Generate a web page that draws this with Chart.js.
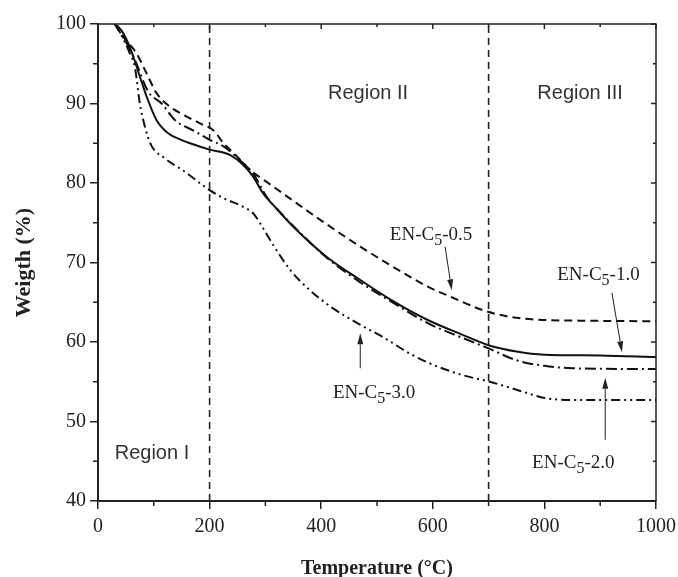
<!DOCTYPE html>
<html>
<head>
<meta charset="utf-8">
<script src="https://cdn.jsdelivr.net/npm/chart.js@4.4.0/dist/chart.umd.min.js"></script>
<style>
html,body{margin:0;padding:0;background:#fff;}
#wrap{width:678px;height:577px;position:relative;}
</style>
</head>
<body>
<div id="wrap"><canvas id="c" width="678" height="577"></canvas></div>
<script>
// ---- data ----
const temp05   = [30, 45, 69, 87, 105, 129, 155, 183, 207, 225, 247, 275, 299, 347, 410, 470, 530, 590, 635, 690, 735, 790, 850, 1000];
const weight05 = [100, 98.4, 96.3, 93.8, 91.3, 89.6, 88.5, 87.5, 86.6, 85.0, 83.5, 81.5, 80.3, 77.9, 74.8, 72.0, 69.4, 67.0, 65.6, 64.0, 63.2, 62.8, 62.7, 62.6];

const temp10   = [30, 42, 57, 75, 87, 105, 125, 150, 165, 200, 237, 260, 278, 296, 317, 350, 410, 470, 525, 590, 650, 700, 750, 800, 900, 1000];
const weight10 = [100, 99.2, 97.1, 93.4, 90.9, 87.9, 86.3, 85.4, 85.0, 84.2, 83.5, 82.3, 80.8, 78.7, 77.0, 74.5, 70.7, 67.8, 65.3, 62.8, 61.0, 59.6, 58.8, 58.4, 58.3, 58.1];

const temp20   = [30, 51, 66, 90, 114, 138, 171, 201, 225, 254, 278, 302, 320, 350, 410, 470, 530, 590, 650, 700, 750, 800, 850, 1000];
const weight20 = [100, 97.6, 95.5, 91.5, 90.0, 87.9, 86.6, 85.4, 84.6, 82.9, 81.2, 78.3, 76.8, 74.6, 70.6, 67.5, 64.9, 62.4, 60.6, 59.2, 57.7, 57.0, 56.7, 56.6];

const temp30   = [30, 42, 57, 66, 75, 84, 95, 120, 156, 200, 225, 260, 278, 296, 314, 344, 380, 422, 464, 511, 560, 595, 655, 702, 750, 798, 846, 1000];
const weight30 = [100, 98.6, 96.3, 94.6, 90.0, 87.1, 84.8, 83.1, 81.4, 79.1, 78.1, 77.0, 76.2, 74.3, 72.2, 69.1, 66.5, 64.2, 62.4, 60.6, 58.5, 57.3, 55.8, 55.0, 54.0, 53.0, 52.7, 52.7];

const xTickValues = [0, 200, 400, 600, 800, 1000];
const yTickValues = [40, 50, 60, 70, 80, 90, 100];
const xMinorStep = 100;
const yMinorStep = 5;
const regionBounds = [200, 700];
const regionNames = ['Region I', 'Region II', 'Region III'];
const seriesNames = ['EN-C5-0.5', 'EN-C5-1.0', 'EN-C5-2.0', 'EN-C5-3.0'];

function pts(t, w) { return t.map((v, i) => ({x: v, y: w[i]})); }

// ---- annotation placement (data coordinates) ----
const regionLabelPos = [
  {x: 30, y: 45.3, align: 'left'},
  {x: 484, y: 90.6, align: 'center'},
  {x: 864, y: 90.6, align: 'center'}
];
const seriesLabelPos = [
  {x: 523, y: 72.8},
  {x: 823, y: 67.8},
  {x: 778, y: 44.2},
  {x: 421, y: 53.0}
];
const arrowPos = [
  {x0: 622, y0: 72.0, x1: 634, y1: 66.5},
  {x0: 921, y0: 66.2, x1: 939, y1: 58.7},
  {x0: 909, y0: 47.7, x1: 909, y1: 55.5},
  {x0: 470, y0: 56.7, x1: 470, y1: 61.1}
];

const INK = '#222';

const decor = {
  id: 'decor',
  afterDraw(chart) {
    const ctx = chart.ctx;
    const xs = chart.scales.x, ys = chart.scales.y;
    const a = chart.chartArea;
    ctx.save();
    ctx.strokeStyle = INK;
    ctx.fillStyle = INK;
    // top and right frame
    ctx.lineWidth = 1.5;
    ctx.beginPath();
    ctx.moveTo(a.left, a.top); ctx.lineTo(a.right, a.top); ctx.lineTo(a.right, a.bottom);
    ctx.stroke();
    // minor ticks bottom / top
    ctx.lineWidth = 1.5;
    for (let v = xs.min; v <= xs.max + 0.01; v += xMinorStep) {
      const px = xs.getPixelForValue(v);
      const major = xTickValues.includes(v);
      ctx.beginPath();
      if (!major) { ctx.moveTo(px, a.bottom); ctx.lineTo(px, a.bottom + 5); }
      ctx.moveTo(px, a.top); ctx.lineTo(px, a.top + (major ? 5 : 3));
      ctx.stroke();
    }
    for (let v = ys.min; v <= ys.max + 0.01; v += yMinorStep) {
      const py = ys.getPixelForValue(v);
      const major = yTickValues.includes(v);
      ctx.beginPath();
      if (!major) { ctx.moveTo(a.left, py); ctx.lineTo(a.left - 5, py); }
      ctx.moveTo(a.right, py); ctx.lineTo(a.right - (major ? 5 : 3), py);
      ctx.stroke();
    }
    // region boundaries
    ctx.lineWidth = 1.6;
    ctx.setLineDash([7, 5]);
    regionBounds.forEach(v => {
      const px = xs.getPixelForValue(v);
      ctx.beginPath(); ctx.moveTo(px, a.top + 2); ctx.lineTo(px, a.bottom); ctx.stroke();
    });
    ctx.setLineDash([]);
    // region names
    ctx.font = '20px "Liberation Sans", Arial, sans-serif';
    ctx.fillStyle = '#333';
    ctx.textBaseline = 'alphabetic';
    regionNames.forEach((n, i) => {
      const p = regionLabelPos[i];
      ctx.textAlign = p.align;
      ctx.fillText(n, xs.getPixelForValue(p.x), ys.getPixelForValue(p.y));
    });
    // series labels with subscript
    ctx.fillStyle = INK;
    ctx.textAlign = 'left';
    seriesNames.forEach((n, i) => {
      const p = seriesLabelPos[i];
      let px = xs.getPixelForValue(p.x);
      const py = ys.getPixelForValue(p.y);
      const m = n.match(/^(EN-C)(5)(.*)$/);
      ctx.font = '19px "Liberation Serif", "Times New Roman", serif';
      ctx.fillText(m[1], px, py); px += ctx.measureText(m[1]).width;
      ctx.font = '16px "Liberation Serif", "Times New Roman", serif';
      ctx.fillText(m[2], px, py + 5); px += ctx.measureText(m[2]).width;
      ctx.font = '19px "Liberation Serif", "Times New Roman", serif';
      ctx.fillText(m[3], px, py);
    });
    // arrows
    ctx.lineWidth = 1;
    arrowPos.forEach(r => {
      const x0 = xs.getPixelForValue(r.x0), y0 = ys.getPixelForValue(r.y0);
      const x1 = xs.getPixelForValue(r.x1), y1 = ys.getPixelForValue(r.y1);
      const ang = Math.atan2(y1 - y0, x1 - x0);
      const L = 11, W = 3;
      const bx = x1 - L * Math.cos(ang), by = y1 - L * Math.sin(ang);
      ctx.beginPath(); ctx.moveTo(x0, y0); ctx.lineTo(bx, by); ctx.stroke();
      ctx.beginPath();
      ctx.moveTo(x1, y1);
      ctx.lineTo(bx + W * Math.sin(ang), by - W * Math.cos(ang));
      ctx.lineTo(bx - W * Math.sin(ang), by + W * Math.cos(ang));
      ctx.closePath(); ctx.fill();
    });
    ctx.restore();
  }
};

const common = {pointRadius: 0, borderColor: '#111', borderWidth: 2, fill: false, cubicInterpolationMode: 'monotone', showLine: true};

new Chart(document.getElementById('c'), {
  type: 'scatter',
  data: {
    datasets: [
      Object.assign({label: seriesNames[0], data: pts(temp05, weight05), borderDash: [8, 5]}, common),
      Object.assign({label: seriesNames[1], data: pts(temp10, weight10), borderDash: []}, common),
      Object.assign({label: seriesNames[2], data: pts(temp20, weight20), borderDash: [11, 4, 2, 4]}, common),
      Object.assign({label: seriesNames[3], data: pts(temp30, weight30), borderDash: [9, 4, 2, 4, 2, 4]}, common)
    ]
  },
  options: {
    responsive: false,
    animation: false,
    devicePixelRatio: 1,
    layout: {padding: {left: 0, top: 24, right: 22, bottom: 0}},
    plugins: {legend: {display: false}, tooltip: {enabled: false}},
    scales: {
      x: {
        type: 'linear', min: 0, max: 1000,
        afterBuildTicks: s => { s.ticks = xTickValues.map(v => ({value: v})); },
        afterFit: s => { s.height = 76; s.paddingLeft = 0; s.paddingRight = 0; },
        ticks: {color: INK, padding: 6, maxRotation: 0, callback: v => String(v),
                font: {family: '"Liberation Serif", "Times New Roman", serif', size: 20}},
        grid: {drawOnChartArea: false, drawTicks: true, tickLength: 8, color: INK, lineWidth: 1.5},
        border: {color: INK, width: 2},
        title: {display: true, text: 'Temperature (°C)', color: INK, padding: {top: 0, bottom: 0},
                font: {family: '"Liberation Serif", "Times New Roman", serif', size: 20, weight: 'bold', lineHeight: 0.8}}
      },
      y: {
        type: 'linear', min: 40, max: 100,
        afterBuildTicks: s => { s.ticks = yTickValues.map(v => ({value: v})); },
        afterFit: s => { s.width = 98; s.paddingTop = 0; s.paddingBottom = 0; },
        ticks: {color: INK, padding: 4, callback: v => String(v),
                font: {family: '"Liberation Serif", "Times New Roman", serif', size: 20}},
        grid: {drawOnChartArea: false, drawTicks: true, tickLength: 8, color: INK, lineWidth: 1.5},
        border: {color: INK, width: 2},
        title: {display: true, text: 'Weigth (%)', color: INK, padding: {top: 11, bottom: 0},
                font: {family: '"Liberation Serif", "Times New Roman", serif', size: 22, weight: 'bold', lineHeight: 1.2}}
      }
    }
  },
  plugins: [decor]
});
</script>
</body>
</html>
